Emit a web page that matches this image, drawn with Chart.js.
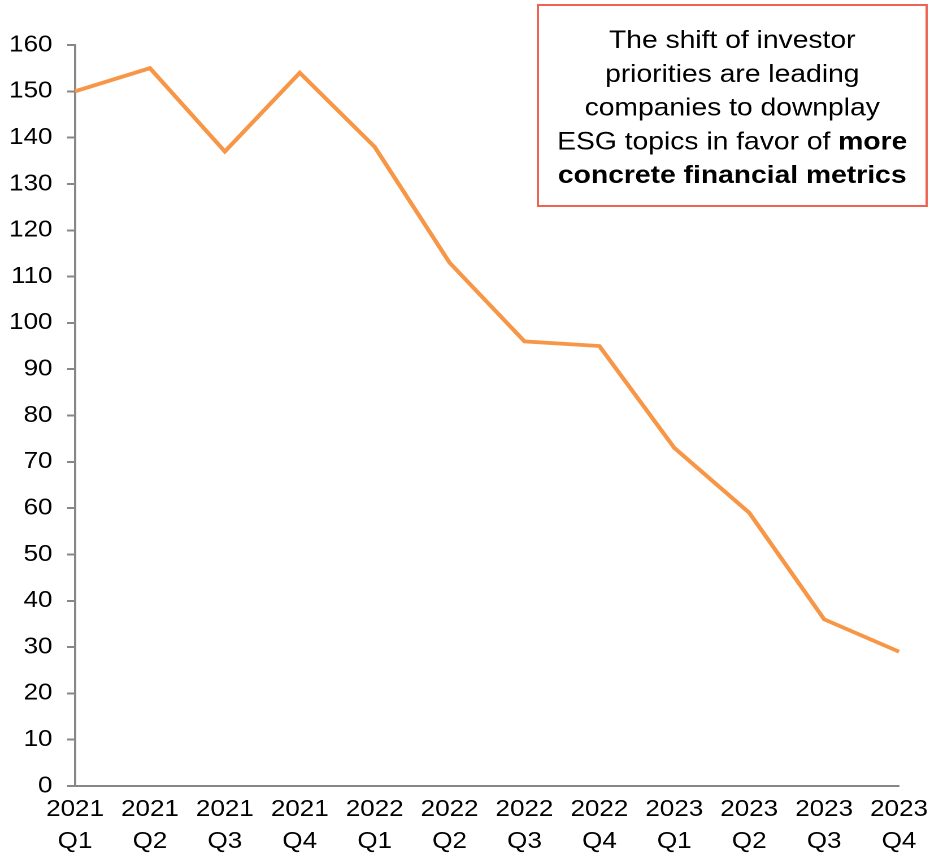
<!DOCTYPE html>
<html lang="en">
<head>
    <meta charset="UTF-8">
    <title>Quarterly ESG Mentions</title>
    <script src="https://cdn.jsdelivr.net/npm/chart.js"></script>
    <style>
        html, body {
            margin: 0;
            padding: 0;
            background: #ffffff;
            overflow: hidden;
        }
        .chart-wrap {
            width: 930px;
            height: 858px;
        }
        /* drawn a bit narrower, then widened to fill the page (wide lettering) */
        #esgChart {
            width: 823px;
            height: 858px;
            transform: scaleX(1.13);
            transform-origin: 0 0;
        }
    </style>
</head>
<body>
    <div class="chart-wrap">
        <canvas id="esgChart" width="823" height="858"></canvas>
    </div>
    <script>
        const years = ['2021', '2021', '2021', '2021', '2022', '2022', '2022', '2022', '2023', '2023', '2023', '2023'];
        const quarters = ['Q1', 'Q2', 'Q3', 'Q4', 'Q1', 'Q2', 'Q3', 'Q4', 'Q1', 'Q2', 'Q3', 'Q4'];
        const mentions = [150, 155, 137, 154, 138, 113, 96, 95, 73, 59, 36, 29];

        const noteLines = [
            [{ text: 'The shift of investor', bold: false }],
            [{ text: 'priorities are leading', bold: false }],
            [{ text: 'companies to downplay', bold: false }],
            [{ text: 'ESG topics in favor of ', bold: false }, { text: 'more', bold: true }],
            [{ text: 'concrete financial metrics', bold: true }]
        ];

        const axisGrey = '#878787';
        const fontFamily = '"Liberation Sans", Arial, sans-serif';

        // callout box in the top right corner
        const noteBox = {
            id: 'noteBox',
            afterDraw(chart) {
                const ctx = chart.ctx;
                const left = 476, top = 5, right = 820, bottom = 206;
                ctx.save();
                ctx.fillStyle = '#ffffff';
                ctx.fillRect(left, top, right - left, bottom - top);
                ctx.strokeStyle = '#EE6352';
                ctx.lineWidth = 2;
                ctx.strokeRect(left, top, right - left, bottom - top);

                ctx.fillStyle = '#000000';
                ctx.textBaseline = 'alphabetic';
                ctx.textAlign = 'left';
                const cx = (left + right) / 2;
                let baseline = 48;
                noteLines.forEach(parts => {
                    let total = 0;
                    parts.forEach(p => {
                        ctx.font = (p.bold ? 'bold ' : '') + '25px ' + fontFamily;
                        p.w = ctx.measureText(p.text).width;
                        total += p.w;
                    });
                    let x = cx - total / 2;
                    parts.forEach(p => {
                        ctx.font = (p.bold ? 'bold ' : '') + '25px ' + fontFamily;
                        ctx.fillText(p.text, x, baseline);
                        x += p.w;
                    });
                    baseline += 33.8;
                });
                ctx.restore();
            }
        };

        const config = {
            type: 'line',
            data: {
                labels: years.map((y, i) => [y, quarters[i]]),
                datasets: [{
                    data: mentions,
                    borderColor: '#F79646',
                    borderWidth: 3.8,
                    pointRadius: 0,
                    tension: 0,
                    fill: false
                }]
            },
            options: {
                responsive: false,
                animation: false,
                devicePixelRatio: 2,
                layout: {
                    padding: { left: 8, right: 27.4, top: 45, bottom: 2.5 }
                },
                plugins: {
                    legend: { display: false },
                    tooltip: { enabled: false }
                },
                scales: {
                    x: {
                        offset: false,
                        grid: {
                            display: true,
                            drawOnChartArea: false,
                            drawTicks: false
                        },
                        border: { display: true, color: axisGrey, width: 2 },
                        ticks: {
                            autoSkip: false,
                            maxRotation: 0,
                            padding: 8,
                            color: '#000000',
                            font: { family: fontFamily, size: 23, lineHeight: 1.38 }
                        },
                        // only count the padding once below the axis, and let the end labels overhang
                        afterFit(scale) {
                            scale.height = 69.5;
                            scale.paddingLeft = 0;
                            scale.paddingRight = 0;
                        }
                    },
                    y: {
                        min: 0,
                        max: 160,
                        grid: {
                            display: true,
                            drawOnChartArea: false,
                            drawTicks: true,
                            tickLength: 7,
                            color: axisGrey,
                            lineWidth: 2
                        },
                        border: { display: true, color: axisGrey, width: 2 },
                        ticks: {
                            stepSize: 10,
                            padding: 13,
                            color: '#000000',
                            font: { family: fontFamily, size: 23 }
                        },
                        afterFit(scale) {
                            scale.width = 58.4;
                        }
                    }
                }
            },
            plugins: [noteBox]
        };

        const esgChart = new Chart(document.getElementById('esgChart'), config);
    </script>
</body>
</html>
